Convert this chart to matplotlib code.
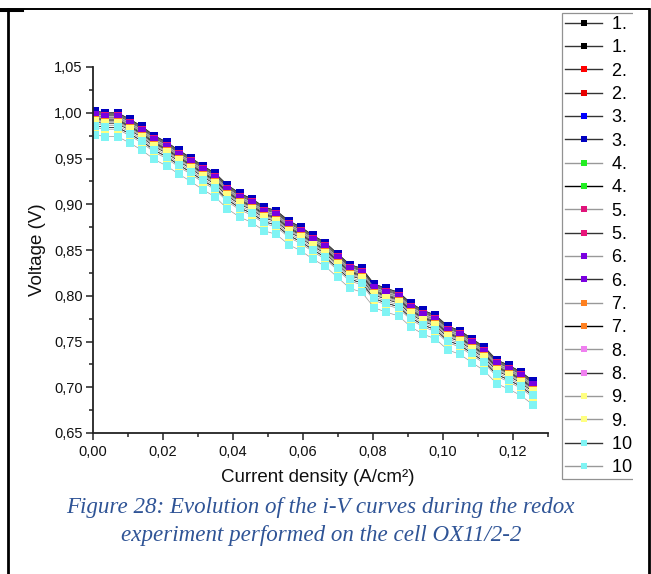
import matplotlib
matplotlib.use('Agg')
import matplotlib.pyplot as plt
import numpy as np
from matplotlib.lines import Line2D
from matplotlib.ticker import FuncFormatter, MultipleLocator
from matplotlib.transforms import Bbox, TransformedBbox

plt.rcParams['font.family'] = ['Liberation Sans', 'DejaVu Sans']

# ── data ──
# current steps of the i-V sweep (A/cm²)
CURRENT = [0.0005, 0.0035, 0.0070, 0.0105, 0.0140, 0.0175, 0.0210, 0.0245, 0.0279,
           0.0314, 0.0349, 0.0384, 0.0419, 0.0454, 0.0489, 0.0524, 0.0559, 0.0594,
           0.0629, 0.0664, 0.0699, 0.0734, 0.0768, 0.0803, 0.0838, 0.0873, 0.0908,
           0.0943, 0.0978, 0.1013, 0.1048, 0.1083, 0.1118, 0.1153, 0.1188, 0.1222,
           0.1257]
# top trace of each marker stack (V)
TOP_V = [1.002, 1.000, 1.000, 0.993, 0.985, 0.975, 0.968, 0.959, 0.951,
         0.942, 0.934, 0.921, 0.912, 0.906, 0.897, 0.893, 0.882, 0.875,
         0.866, 0.858, 0.846, 0.834, 0.830, 0.813, 0.808, 0.804, 0.792,
         0.784, 0.779, 0.767, 0.762, 0.753, 0.744, 0.730, 0.724, 0.717,
         0.707]
# each run's gap below the top trace (V)
GAP = [0.000, 0.002, 0.003, 0.005, 0.001, 0.000, 0.006, 0.008, 0.004, 0.007,
       0.005, 0.009, 0.010, 0.012, 0.014, 0.016, 0.011, 0.018, 0.016, 0.026]
LABELS = ['1. Initial (a)', '1. Initial (b)', '2. Redox 1 (a)', '2. Redox 1 (b)',
          '3. Redox 2 (a)', '3. Redox 2 (b)', '4. Redox 3 (a)', '4. Redox 3 (b)',
          '5. Redox 4 (a)', '5. Redox 4 (b)', '6. Redox 5 (a)', '6. Redox 5 (b)',
          '7. Redox 6 (a)', '7. Redox 6 (b)', '8. Redox 7 (a)', '8. Redox 7 (b)',
          '9. Redox 8 (a)', '9. Redox 8 (b)', '10. Redox 9 (a)', '10. Redox 9 (b)']
MARKER_C = ['#000000', '#000000', '#ff0000', '#e80000', '#0000ff', '#0000c0',
            '#22ee22', '#22ee22', '#e0147a', '#e8147a', '#7a00e0', '#7a00e0',
            '#ff8020', '#ff8020', '#f080f0', '#f080f0', '#ffff80', '#ffff80',
            '#80f4f4', '#80f4f4']
LINE_C = ['#333333', '#333333', '#333333', '#333333', '#333333', '#333333',
          '#999999', '#000000', '#999999', '#333333', '#999999', '#333333',
          '#999999', '#000000', '#999999', '#333333', '#999999', '#999999',
          '#333333', '#999999']

W, H = 651, 574
fig = plt.figure(figsize=(W / 100, H / 100), dpi=100)
ax = fig.add_axes([93 / W, 1 - 433 / H, 455 / W, 366 / H])

cur = np.array(CURRENT)
top = np.array(TOP_V)
for lab, mc, lc, gap in zip(LABELS, MARKER_C, LINE_C, GAP):
    ax.plot(cur, top - gap, '-', color=lc, lw=0.5, marker='s', ms=5.6,
            mfc=mc, mec=mc, mew=0, label=lab)

ax.set_xlim(0, 0.13)
ax.set_ylim(0.65, 1.05)
ax.xaxis.set_major_locator(MultipleLocator(0.02))
ax.xaxis.set_minor_locator(MultipleLocator(0.01))
ax.yaxis.set_major_locator(MultipleLocator(0.05))
ax.yaxis.set_minor_locator(MultipleLocator(0.025))
comma = FuncFormatter(lambda v, p: f'{v:.2f}'.replace('.', ','))
ax.xaxis.set_major_formatter(comma)
ax.yaxis.set_major_formatter(comma)
ax.tick_params(which='both', direction='out', width=1.1, color='#222222',
               labelsize=10.5, labelcolor='#111111')
ax.tick_params(which='major', length=5)
ax.tick_params(which='minor', length=3)
ax.tick_params(axis='y', pad=2.5)
ax.tick_params(axis='x', pad=4)
for s in ('top', 'right'):
    ax.spines[s].set_visible(False)
for s in ('left', 'bottom'):
    ax.spines[s].set_linewidth(1.3)
    ax.spines[s].set_color('#222222')

fig.text(318 / W, 1 - 477 / H, 'Current density (A/cm²)', ha='center', va='center',
         fontsize=13.5, color='#111111')
fig.text(37 / W, 1 - 250 / H, 'Voltage (V)', ha='center', va='center',
         rotation=90, fontsize=13.5, color='#111111')

# legend, cut off at the right like the page crop
h, l = ax.get_legend_handles_labels()
leg = fig.legend(h, l, loc='upper left', bbox_to_anchor=(562 / W, 1 - 13 / H),
                 borderaxespad=0, fontsize=13, handlelength=2.05, handletextpad=0.55,
                 borderpad=0.17, labelspacing=0.35, frameon=True, fancybox=False,
                 edgecolor='#777777', markerscale=0.7)
leg.get_frame().set_linewidth(0.9)
for ln in leg.get_lines():
    ln.set_linewidth(1.0)
clip = TransformedBbox(Bbox.from_extents(0, 0, 632.5 / W, 1), fig.transFigure)
for t in leg.get_texts():
    t.set_clip_box(clip)
    t.set_clip_on(True)
leg.get_frame().set_clip_box(clip)
leg.get_frame().set_clip_on(True)

# caption
cap = dict(ha='center', va='center', fontsize=16.6, style='italic',
           family='Liberation Serif', color='#2F5496')
fig.text(320 / W, 1 - 508 / H, 'Figure 28: Evolution of the i-V curves during the redox', **cap)
fig.text(321 / W, 1 - 535 / H, 'experiment performed on the cell OX11/2-2', **cap)

# table borders of the page
tf = fig.transFigure
fig.add_artist(Line2D([0, 649 / W], [1 - 8.5 / H] * 2, transform=tf, color='k', lw=1.4))
fig.add_artist(Line2D([0, 22 / W], [1 - 9.5 / H] * 2, transform=tf, color='k', lw=2.2))
fig.add_artist(Line2D([7.5 / W] * 2, [0, 1 - 9 / H], transform=tf, color='k', lw=2))
fig.add_artist(Line2D([648.5 / W] * 2, [0, 1 - 9 / H], transform=tf, color='k', lw=2))

fig.savefig('out.png', dpi=100)
